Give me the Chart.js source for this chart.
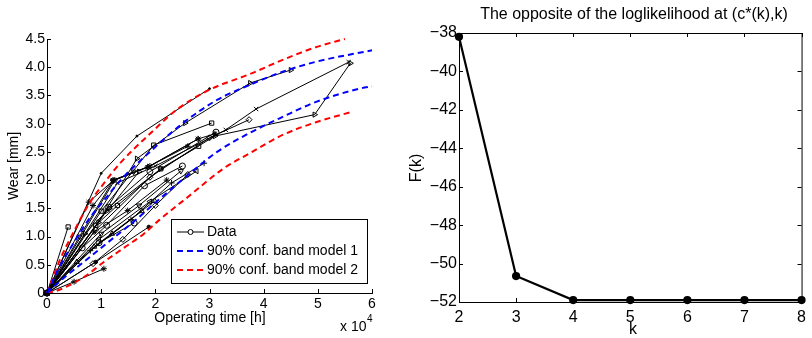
<!DOCTYPE html>
<html>
<head>
<meta charset="utf-8">
<script src="https://cdn.jsdelivr.net/npm/chart.js@4.4.1/dist/chart.umd.min.js"></script>
<style>
  html, body { margin: 0; padding: 0; background: #fff; }
  #wrap { position: relative; width: 812px; height: 338px; }
  canvas { position: absolute; top: 0; }
  #wearChart { left: 0; }
  #fkChart { left: 400px; }
</style>
</head>
<body>
<div id="wrap">
  <canvas id="wearChart" width="400" height="338"></canvas>
  <canvas id="fkChart" width="412" height="338"></canvas>
</div>
<script>
// ---- left panel: wear paths [operating time h, wear mm] ----
const w01 = [[0,0],[10000,2.12],[16600,2.78],[30000,3.62]];
const w02 = [[0,0],[7700,1.61],[12200,1.99],[18600,2.23],[27900,2.73]];
const w03 = [[0,0],[9500,1.25],[16600,2.38],[25500,3.01],[37500,3.72],[45000,3.95]];
const w04 = [[0,0],[10000,1.45],[19700,2.62],[30400,3.01]];
const w05 = [[0,0],[11400,1.52],[19000,2.15],[31200,2.85]];
const w06 = [[0,0],[13000,1.95],[20000,2.25],[33000,2.89],[38600,3.26],[55700,4.09]];
const w07 = [[0,0],[11000,1.45],[21000,2.2],[31000,2.78],[49400,3.16],[56000,4.07]];
const w08 = [[0,0],[9000,1.12],[19000,2.05],[30000,2.75],[37300,3.07]];
const w09 = [[0,0],[12500,2.0],[18600,2.23],[27900,2.73],[31000,2.82]];
const w10 = [[0,0],[6000,1.0],[12200,1.99],[16000,2.15]];
const w11 = [[0,0],[9600,0.95],[19000,1.62],[27600,2.16]];
const w12 = [[0,0],[10000,1.05],[17000,1.55],[24700,2.16]];
const w13 = [[0,0],[8700,0.82],[19900,1.63]];
const w14 = [[0,0],[5000,0.2],[10500,0.43]];
const w15 = [[0,0],[3900,1.17]];
const w16 = [[0,0],[9000,0.55],[18800,1.17]];
const w17 = [[0,0],[9600,0.89],[16100,1.24]];
const w18 = [[0,0],[8700,1.08],[14900,1.46],[22100,2.0]];
const w19 = [[0,0],[8000,0.75],[15500,1.3],[23000,1.95],[29000,2.3]];
const w20 = [[0,0],[8500,0.52],[14000,0.95],[20000,1.55],[26000,2.1]];
const w21 = [[0,0],[8500,1.55],[12200,2.0],[19000,2.25],[26000,2.6]];
const w22 = [[0,0],[7000,1.05],[11500,1.5],[17000,2.15]];
const w23 = [[0,0],[6500,0.8],[11000,1.2],[18000,1.9],[25000,2.25]];
const w24 = [[0,0],[9000,1.2],[13000,1.55],[21000,2.2],[28000,2.6]];
const w25 = [[0,0],[5500,0.55],[12000,1.05],[17500,1.45]];

const wearSeries = [w01, w02, w03, w04, w05, w06, w07, w08, w09, w10, w11, w12, w13,
                    w14, w15, w16, w17, w18, w19, w20, w21, w22, w23, w24, w25];

// 90% confidence bands
const band1Upper = [[0,0],[2500,0.5],[5000,0.9],[7900,1.33],[10000,1.58],[14000,2.04],[19000,2.5],
                    [25100,3.01],[31400,3.42],[37500,3.69],[43500,3.92],[49800,4.1],[60000,4.3]];
const band1Lower = [[0,0],[3500,0.3],[6800,0.55],[11800,0.94],[16100,1.27],[20000,1.6],[26900,2.16],
                    [31400,2.5],[37500,2.84],[43500,3.12],[49800,3.39],[57700,3.62],[60000,3.66]];
const band2Upper = [[0,0],[2400,0.59],[4800,1.06],[7900,1.6],[10000,1.88],[13500,2.3],[19000,2.82],
                    [24000,3.25],[30000,3.6],[37500,3.88],[43500,4.13],[49800,4.36],[55000,4.5]];
const band2Lower = [[0,0],[1800,0.04],[6800,0.28],[10500,0.55],[14200,0.8],[17900,1.05],[20800,1.3],
                    [26000,1.7],[32500,2.2],[37500,2.48],[43500,2.8],[49800,3.03],[56300,3.21]];

const legendLabels = ['Data', '90% conf. band model 1', '90% conf. band model 2'];

// ---- right panel ----
const kValues = [2, 3, 4, 5, 6, 7, 8];
const fValues = [-38.2, -50.65, -51.9, -51.9, -51.9, -51.9, -51.9];

const FONT = 'Liberation Sans, Arial, Helvetica, sans-serif';
Chart.defaults.font.family = FONT;
Chart.defaults.color = '#000';
Chart.defaults.animation = false;

function toXY(pairs) {
  return pairs.map(p => ({ x: p[0], y: p[1] }));
}

// marker style per wear path: [style, rotation, radius]
const markerStyles = [
  ['circle', 0, 1], ['star', 0, 3], ['triangle', 90, 3], ['rect', 0, 3], ['circle', 0, 3],
  ['crossRot', 0, 3], ['triangle', 90, 3], ['rectRot', 0, 3], ['star', 0, 3], ['triangle', 180, 3],
  ['triangle', -90, 3], ['triangle', 180, 3], ['triangle', 0, 3], ['star', 0, 3], ['rect', 0, 3],
  ['circle', 0, 1.8], ['circle', 0, 3], ['star', 0, 3], ['cross', 0, 3], ['rectRot', 0, 3],
  ['star', 0, 3], ['triangle', 90, 3], ['circle', 0, 3], ['rect', 0, 3], ['triangle', 0, 3]
];

// tick marks drawn inside the plot box, like MATLAB
const inwardTicks = {
  id: 'inwardTicks',
  afterDraw(chart, args, opts) {
    const { ctx, chartArea: a, scales: { x, y } } = chart;
    const len = opts.len || 4;
    ctx.save();
    ctx.strokeStyle = '#000';
    ctx.lineWidth = 1;
    ctx.beginPath();
    x.ticks.forEach(t => {
      const px = Math.round(x.getPixelForValue(t.value)) + 0.5;
      ctx.moveTo(px, a.bottom); ctx.lineTo(px, a.bottom - len);
      if (opts.box) { ctx.moveTo(px, a.top); ctx.lineTo(px, a.top + len); }
    });
    y.ticks.forEach(t => {
      const py = Math.round(y.getPixelForValue(t.value)) + 0.5;
      ctx.moveTo(a.left, py); ctx.lineTo(a.left + len, py);
      if (opts.box) { ctx.moveTo(a.right, py); ctx.lineTo(a.right - len, py); }
    });
    if (opts.box) {
      ctx.rect(a.left + 0.5, a.top + 0.5, a.right - a.left, a.bottom - a.top);
    }
    ctx.stroke();
    ctx.restore();
  }
};

const wearDecor = {
  id: 'wearDecor',
  afterDraw(chart) {
    const ctx = chart.ctx;
    ctx.save();
    ctx.fillStyle = '#000';
    ctx.font = '14px ' + FONT;
    ctx.textAlign = 'center';
    ctx.textBaseline = 'middle';
    ctx.fillText('Operating time [h]', 210, 318);
    ctx.save();
    ctx.translate(14, 166);
    ctx.rotate(-Math.PI / 2);
    ctx.fillText('Wear [mm]', 0, 0);
    ctx.restore();
    ctx.textAlign = 'left';
    ctx.textBaseline = 'alphabetic';
    ctx.fillText('x 10', 340, 331);
    ctx.font = '10px ' + FONT;
    ctx.fillText('4', 367, 322);

    // legend box
    ctx.fillStyle = '#fff';
    ctx.fillRect(171, 219, 196, 64);
    ctx.strokeStyle = '#000';
    ctx.lineWidth = 1;
    ctx.strokeRect(171.5, 219.5, 196, 64);
    const rows = [232, 251, 270];
    const colors = ['#000', '#0000ff', '#ff0000'];
    rows.forEach((ry, i) => {
      ctx.beginPath();
      ctx.strokeStyle = colors[i];
      ctx.lineWidth = i === 0 ? 1 : 2;
      ctx.setLineDash(i === 0 ? [] : [6, 4]);
      ctx.moveTo(177, ry); ctx.lineTo(204, ry);
      ctx.stroke();
      ctx.setLineDash([]);
      if (i === 0) {
        ctx.beginPath();
        ctx.arc(190.5, ry, 2.5, 0, Math.PI * 2);
        ctx.fillStyle = '#fff';
        ctx.fill();
        ctx.stroke();
      }
      ctx.fillStyle = '#000';
      ctx.font = '14px ' + FONT;
      ctx.textBaseline = 'middle';
      ctx.fillText(legendLabels[i], 207, ry);
    });
    ctx.restore();
  }
};

const wearDatasets = wearSeries.map((s, i) => ({
  data: toXY(s),
  showLine: true,
  borderColor: '#000',
  borderWidth: 1,
  pointStyle: markerStyles[i][0],
  pointRotation: markerStyles[i][1],
  pointRadius: markerStyles[i][2],
  pointBorderColor: '#000',
  pointBackgroundColor: markerStyles[i][2] < 2 ? '#000' : 'rgba(0,0,0,0)',
  pointBorderWidth: 1,
  order: 2,
  clip: false
}));

function bandDataset(pairs, color) {
  return {
    data: toXY(pairs),
    showLine: true,
    borderColor: color,
    borderWidth: 2,
    borderDash: [6, 4],
    pointRadius: 0,
    cubicInterpolationMode: 'monotone',
    order: 1,
    clip: false
  };
}

new Chart(document.getElementById('wearChart'), {
  type: 'scatter',
  data: {
    datasets: [
      ...wearDatasets,
      bandDataset(band1Upper, '#0000ff'),
      bandDataset(band1Lower, '#0000ff'),
      bandDataset(band2Upper, '#ff0000'),
      bandDataset(band2Lower, '#ff0000')
    ]
  },
  options: {
    responsive: false,
    layout: { padding: { top: 39, right: 28, left: 0, bottom: 0 } },
    plugins: { legend: { display: false }, tooltip: { enabled: false }, inwardTicks: { len: 4 } },
    scales: {
      x: {
        type: 'linear', min: 0, max: 60000,
        grid: { display: false, drawTicks: false },
        border: { display: true, color: '#000', width: 1 },
        ticks: { stepSize: 10000, padding: 3, font: { size: 14 }, callback: v => String(v / 10000) },
        afterFit: s => { s.height = 45; }
      },
      y: {
        type: 'linear', min: 0, max: 4.5,
        grid: { display: false, drawTicks: false },
        border: { display: true, color: '#000', width: 1 },
        ticks: { stepSize: 0.5, padding: 2, font: { size: 14 } },
        afterFit: s => { s.width = 47; }
      }
    }
  },
  plugins: [inwardTicks, wearDecor]
});

const fkDecor = {
  id: 'fkDecor',
  afterDraw(chart) {
    const ctx = chart.ctx;
    ctx.save();
    ctx.fillStyle = '#000';
    ctx.font = '16px ' + FONT;
    ctx.textAlign = 'center';
    ctx.textBaseline = 'middle';
    ctx.fillText('The opposite of the loglikelihood at (c*(k),k)', 234, 15);
    ctx.fillText('k', 233, 330);
    ctx.translate(17, 168);
    ctx.rotate(-Math.PI / 2);
    ctx.fillText('F(k)', 0, 0);
    ctx.restore();
  }
};

new Chart(document.getElementById('fkChart'), {
  type: 'scatter',
  data: {
    datasets: [{
      data: kValues.map((k, i) => ({ x: k, y: fValues[i] })),
      showLine: true,
      borderColor: '#000',
      borderWidth: 2.2,
      pointRadius: 3,
      pointBackgroundColor: '#000',
      pointBorderColor: '#000',
      clip: false
    }]
  },
  options: {
    responsive: false,
    layout: { padding: { top: 33, right: 5, left: 0, bottom: 0 } },
    plugins: { legend: { display: false }, tooltip: { enabled: false }, inwardTicks: { len: 4, box: true } },
    scales: {
      x: {
        type: 'linear', min: 2, max: 8,
        grid: { display: false, drawTicks: false },
        border: { display: true, color: '#000', width: 1 },
        ticks: { stepSize: 1, padding: 6, font: { size: 16 } },
        afterFit: s => { s.height = 36; }
      },
      y: {
        type: 'linear', min: -52, max: -38,
        grid: { display: false, drawTicks: false },
        border: { display: true, color: '#000', width: 1 },
        ticks: { stepSize: 2, padding: 2, font: { size: 16 }, callback: v => String(v).replace('-', '\u2212') },
        afterFit: s => { s.width = 59; }
      }
    }
  },
  plugins: [inwardTicks, fkDecor]
});
</script>
</body>
</html>
